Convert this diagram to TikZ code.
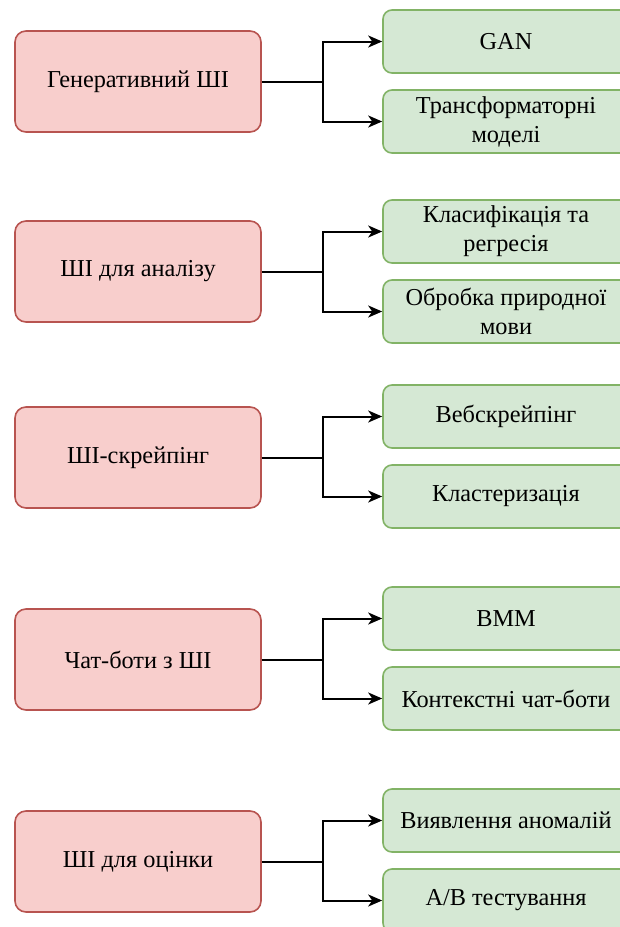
\documentclass[tikz,border=0pt]{standalone}
\usepackage{fontspec}
\setmainfont{Liberation Serif}
\usetikzlibrary{arrows.meta}

\definecolor{catfill}{HTML}{F8CECC}
\definecolor{catline}{HTML}{B85450}
\definecolor{subfill}{HTML}{D5E8D4}
\definecolor{subline}{HTML}{82B366}

\begin{document}
\begin{tikzpicture}[x=1pt, y=-1pt,
    every node/.style={font=\fontsize{24.3}{29}\selectfont, align=center},
    catbox/.style={draw=catline, fill=catfill, line width=1.6pt, rounded corners=11pt,
        minimum width=246pt, minimum height=101pt},
    subbox/.style={draw=subline, fill=subfill, line width=1.6pt, rounded corners=9pt,
        minimum width=246pt, minimum height=63pt},
    link/.style={draw, line width=2pt, -{Stealth[length=14pt, width=12pt, inset=4pt]}}]

    \useasboundingbox (0,0) rectangle (619,927);

    % Generative AI
    \node[catbox] at (138, 81.5) (gen) {Генеративний ШІ};
    \node[subbox] at (506, 41.5) (gan) {GAN};
    \node[subbox] at (506, 121.5) (trans) {Трансформаторні\\моделі};
    \draw[link] (gen.east) -- ++(61,0) |- (gan);
    \draw[link] (gen.east) -- ++(61,0) |- (trans);

    % AI for analysis
    \node[catbox] at (138, 271.5) (anal) {ШІ для аналізу};
    \node[subbox] at (506, 231.5) (class) {Класифікація та\\регресія};
    \node[subbox] at (506, 311.5) (nlp) {Обробка природної\\мови};
    \draw[link] (anal.east) -- ++(61,0) |- (class);
    \draw[link] (anal.east) -- ++(61,0) |- (nlp);

    % AI scraping
    \node[catbox] at (138, 457.5) (scrap) {ШІ-скрейпінг};
    \node[subbox] at (506, 416.5) (web) {Вебскрейпінг};
    \node[subbox] at (506, 496.5) (clust) {Кластеризація};
    \draw[link] (scrap.east) -- ++(61,0) |- (web);
    \draw[link] (scrap.east) -- ++(61,0) |- (clust);

    % Chat bots
    \node[catbox] at (138, 659.5) (chat) {Чат-боти з ШІ};
    \node[subbox] at (506, 618.5) (vmm) {ВММ};
    \node[subbox] at (506, 698.5) (ctx) {Контекстні чат-боти};
    \draw[link] (chat.east) -- ++(61,0) |- (vmm);
    \draw[link] (chat.east) -- ++(61,0) |- (ctx);

    % AI for evaluation
    \node[catbox] at (138, 861.5) (eval) {ШІ для оцінки};
    \node[subbox] at (506, 820.5) (anom) {Виявлення аномалій};
    \node[subbox] at (506, 900.5) (ab) {A/B тестування};
    \draw[link] (eval.east) -- ++(61,0) |- (anom);
    \draw[link] (eval.east) -- ++(61,0) |- (ab);
\end{tikzpicture}
\end{document}
